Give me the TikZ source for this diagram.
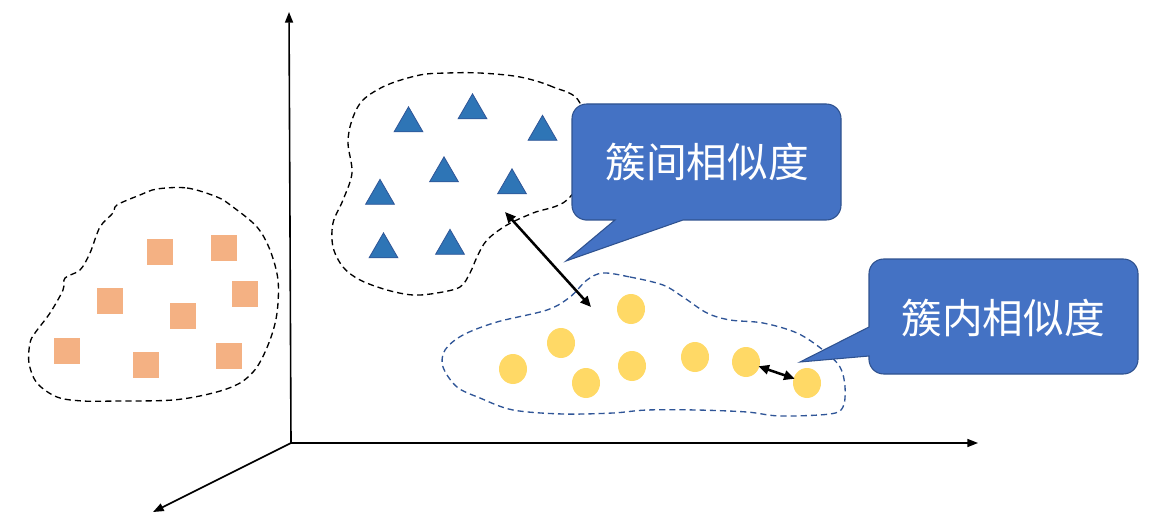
\documentclass[tikz,border=0pt]{standalone}
\usepackage{fontspec}
\newfontfamily\cjk{Noto Sans CJK SC}
\usepackage{tikz}
\usetikzlibrary{shapes.geometric}
\usetikzlibrary{arrows.meta}

\definecolor{sqorange}{HTML}{F4B183}
\definecolor{triblue}{HTML}{2E75B6}
\definecolor{triedge}{HTML}{2F5597}
\definecolor{dotyellow}{HTML}{FFD966}
\definecolor{boxblue}{HTML}{4472C4}
\definecolor{boxedge}{HTML}{2F528F}

\begin{document}
\begin{tikzpicture}[x=0.75pt,y=-0.75pt,
  sq/.style={rectangle,fill=sqorange,inner sep=0pt,minimum width=19pt,minimum height=20pt},
  tri/.style={regular polygon,regular polygon sides=3,fill=triblue,draw=triedge,line width=0.6pt,inner sep=0pt,minimum size=25pt},
  dot/.style={ellipse,fill=dotyellow,inner sep=0pt,minimum width=21pt,minimum height=22.5pt},
  blob/.style={line width=1pt,dash pattern=on 4.6pt off 3pt},
  axis/.style={line width=1.2pt,-{Triangle[length=8pt,width=6pt]}},
  gap/.style={line width=1.9pt,{Triangle[length=8pt,width=7pt]}-{Triangle[length=8pt,width=7pt]}},
  callout/.style={fill=boxblue,draw=boxedge,line width=0.8pt},
  label/.style={text=white,font=\cjk\fontsize{30.5}{36}\selectfont}]
\useasboundingbox (0,0) rectangle (1166,520);

\coordinate (O) at (291,443);
\coordinate (ytip) at (289,12);
\coordinate (xtip) at (978,443);
\coordinate (ztip) at (153,512);
\draw [axis] (O) -- (ytip);
\draw [axis] (O) -- (xtip);
\draw [axis] (O) -- (ztip);

\draw [blob] plot [smooth cycle,tension=0.55] coordinates {
  (157,189) (187,188) (217,197) (233,207) (257,227) (270,250) (278,280)
  (277,313) (270,340) (257,367) (240,383) (213,393) (173,400) (117,401)
  (83,401) (57,397) (37,383) (29,363) (30,343) (35,333) (50,313) (63,290)
  (65,278) (80,270) (90,253) (100,227) (113,213) (117,205) (140,195)};

\draw [blob] plot [smooth cycle,tension=0.55] coordinates {
  (580,103) (553,87) (520,77) (480,73) (447,73) (420,75) (387,85) (363,100)
  (352,120) (348,143) (352,173) (343,200) (333,223) (333,247) (343,267)
  (360,280) (387,290) (413,295) (437,293) (460,287) (470,273) (477,257)
  (487,240) (507,225) (533,213) (567,200) (590,160)};

\draw [blob,draw=triedge] plot [smooth cycle,tension=0.55] coordinates {
  (603,273) (630,277) (663,285) (683,297) (707,313) (730,320) (763,323)
  (797,333) (823,350) (840,367) (845,387) (843,407) (830,414) (780,416)
  (747,412) (697,410) (647,410) (613,413) (563,414) (513,410) (480,398)
  (457,387) (443,367) (445,350) (463,335) (497,322) (547,310) (570,297)
  (587,280)};

\node (s1) [sq] at (160,252) {};
\node (s2) [sq] at (224,248) {};
\node (s3) [sq] at (110,301) {};
\node (s4) [sq] at (183,316) {};
\node (s5) [sq] at (245,294) {};
\node (s6) [sq] at (67,351) {};
\node (s7) [sq] at (146,365) {};
\node (s8) [sq] at (229,356) {};

\node (t1) [tri] at (408.5,123.5) {};
\node (t2) [tri] at (472.5,110.5) {};
\node (t3) [tri] at (542.5,132) {};
\node (t4) [tri] at (444,173.5) {};
\node (t5) [tri] at (512,185.5) {};
\node (t6) [tri] at (380,196) {};
\node (t7) [tri] at (383.5,249.5) {};
\node (t8) [tri] at (450,246) {};

\node (c1) [dot] at (631,309) {};
\node (c2) [dot] at (561,343) {};
\node (c3) [dot] at (513,369) {};
\node (c4) [dot] at (586,383) {};
\node (c5) [dot] at (632,366) {};
\node (c6) [dot] at (695,357) {};
\node (c7) [dot] at (746,362) {};
\node (c8) [dot] at (807,383) {};

\coordinate (gtop) at (505,212);
\coordinate (gbot) at (591,307);
\draw [gap] (gtop) -- (gbot);
\draw [gap,shorten <=-1pt,shorten >=-1pt] (c7) -- (c8);

\draw [callout] (841,160) [rounded corners=11pt] -- (841,104) -- (572,104)
  -- (572,220) -- (600,220) [sharp corners] -- (615,220) -- (566,261)
  -- (683,220) -- (700,220) [rounded corners=11pt] -- (841,220) -- cycle;
\node (inter) [label] at (707,162) {簇间相似度};

\draw [callout] (1138,310) [rounded corners=11pt] -- (1138,259) -- (869,259)
  -- (869,310) [sharp corners] -- (869,327) -- (800,362) -- (869,356)
  -- (869,360) [rounded corners=11pt] -- (869,374) -- (1138,374) -- cycle;
\node (intra) [label] at (1003,318) {簇内相似度};
\end{tikzpicture}
\end{document}
